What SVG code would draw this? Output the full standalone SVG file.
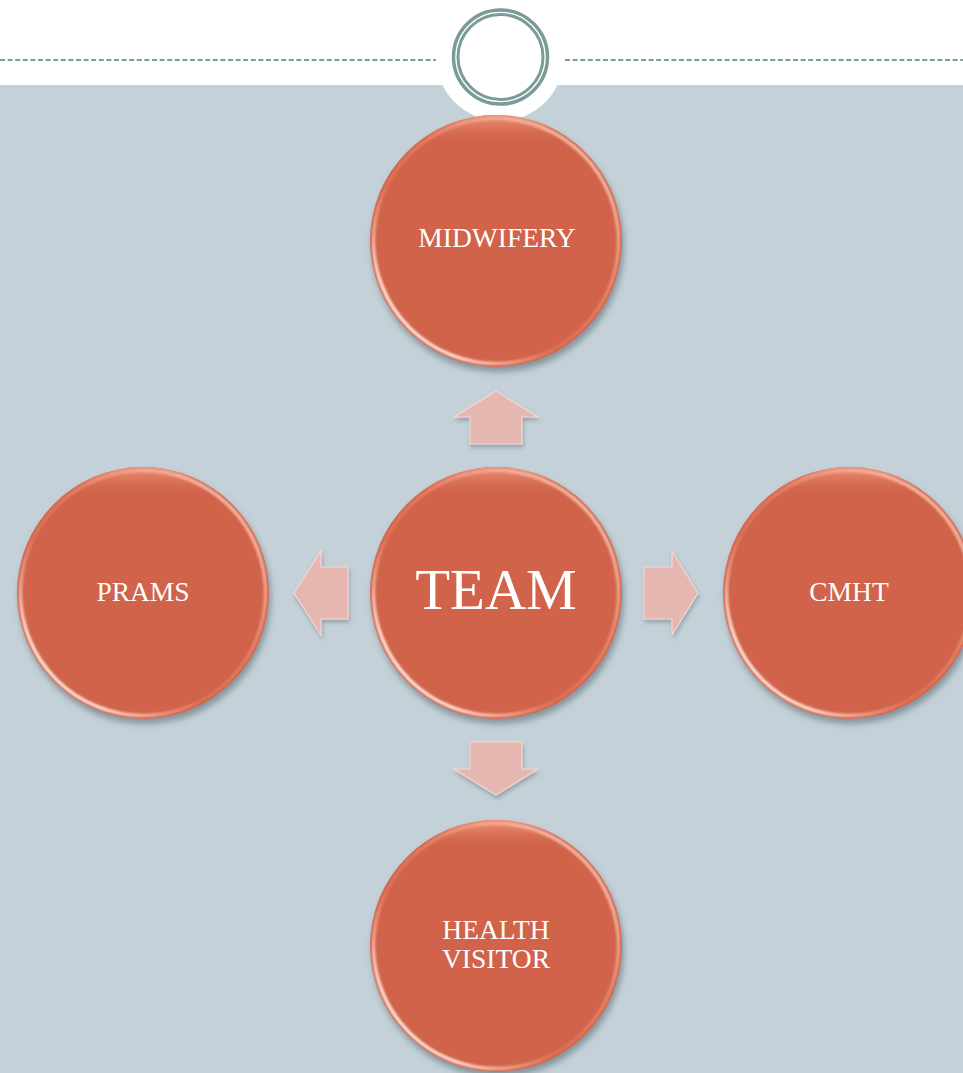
<svg xmlns="http://www.w3.org/2000/svg" width="963" height="1073" viewBox="0 0 963 1073">
  <style>
    .lbl { font-family: "Liberation Serif", "Times New Roman", serif; fill: #ffffff; text-anchor: middle; font-size: 27.5px; }
    .big { font-size: 57px; }
    .arrow { fill: #E6B6B0; stroke: #F5D8D3; stroke-width: 1.2; filter: url(#ashadow); }
    .dash { stroke: #7C9E9B; stroke-width: 2; stroke-dasharray: 5 2.6; fill: none; }
  </style>
  <defs>
    <filter id="bshadow" x="-20%" y="-20%" width="140%" height="140%">
      <feDropShadow dx="2" dy="5" stdDeviation="3" flood-color="#4E6470" flood-opacity="0.55"/>
    </filter>
    <filter id="ashadow" x="-30%" y="-30%" width="160%" height="160%">
      <feDropShadow dx="1" dy="3" stdDeviation="2" flood-color="#5E7480" flood-opacity="0.5"/>
    </filter>
    <filter id="soft" x="-10%" y="-10%" width="120%" height="120%">
      <feGaussianBlur stdDeviation="1.2"/>
    </filter>
    <linearGradient id="rim" x1="0" y1="1" x2="1" y2="0">
      <stop offset="0" stop-color="#ffffff" stop-opacity="1"/>
      <stop offset="0.18" stop-color="#FFE6DC" stop-opacity="0.95"/>
      <stop offset="0.4" stop-color="#F08C70" stop-opacity="0.35"/>
      <stop offset="0.6" stop-color="#F3A088" stop-opacity="0.5"/>
      <stop offset="0.85" stop-color="#FBC6B6" stop-opacity="0.85"/>
      <stop offset="1" stop-color="#FFE0D5" stop-opacity="0.9"/>
    </linearGradient>
    <linearGradient id="topglow" x1="0" y1="0" x2="0" y2="1">
      <stop offset="0" stop-color="#F29C84" stop-opacity="0.8"/>
      <stop offset="0.05" stop-color="#E8866C" stop-opacity="0.5"/>
      <stop offset="0.12" stop-color="#D0634A" stop-opacity="0"/>
    </linearGradient>
    <g id="ball">
      <circle cx="0" cy="0" r="126" fill="#D0634A" filter="url(#bshadow)"/>
      <circle cx="0" cy="0" r="126" fill="url(#topglow)"/>
      <circle cx="0" cy="0" r="122.5" fill="none" stroke="url(#rim)" stroke-width="3.5" filter="url(#soft)"/>
    </g>
  </defs>

  <!-- background -->
  <rect x="0" y="0" width="963" height="1073" fill="#ffffff"/>
  <rect x="0" y="85" width="963" height="988" fill="#C5D1D8"/>
  <circle cx="500" cy="57" r="64" fill="#ffffff"/>
  <line class="dash" x1="0" y1="60" x2="436" y2="60"/>
  <line class="dash" x1="565" y1="60" x2="963" y2="60"/>
  <circle cx="500.5" cy="57" r="47" fill="none" stroke="#7A9B98" stroke-width="3.5"/>
  <circle cx="500.5" cy="57" r="42.5" fill="none" stroke="#7A9B98" stroke-width="3"/>

  <g id="connectors">
    <polygon class="arrow" points="496,391 538,417 522,417 522,444 470,444 470,417 454,417"/>
    <polygon class="arrow" points="496,795 538,769 522,769 522,742 470,742 470,769 454,769"/>
    <polygon class="arrow" points="294,593 321,551 321,567 348,567 348,619 321,619 321,635"/>
    <polygon class="arrow" points="698,593 672,551 672,567 644,567 644,619 672,619 672,635"/>
  </g>

  <g id="node-midwifery">
    <use href="#ball" x="496" y="241"/>
    <text class="lbl" x="497" y="247">MIDWIFERY</text>
  </g>
  <g id="node-prams">
    <use href="#ball" x="143" y="593"/>
    <text class="lbl" x="143" y="601">PRAMS</text>
  </g>
  <g id="node-cmht">
    <use href="#ball" x="849" y="593"/>
    <text class="lbl" x="849" y="601">CMHT</text>
  </g>
  <g id="node-health-visitor">
    <use href="#ball" x="496" y="946"/>
    <text class="lbl" x="496" y="939">HEALTH</text>
    <text class="lbl" x="496" y="968">VISITOR</text>
  </g>
  <g id="node-team">
    <use href="#ball" x="496" y="593"/>
    <text class="lbl big" x="496" y="609">TEAM</text>
  </g>
</svg>
